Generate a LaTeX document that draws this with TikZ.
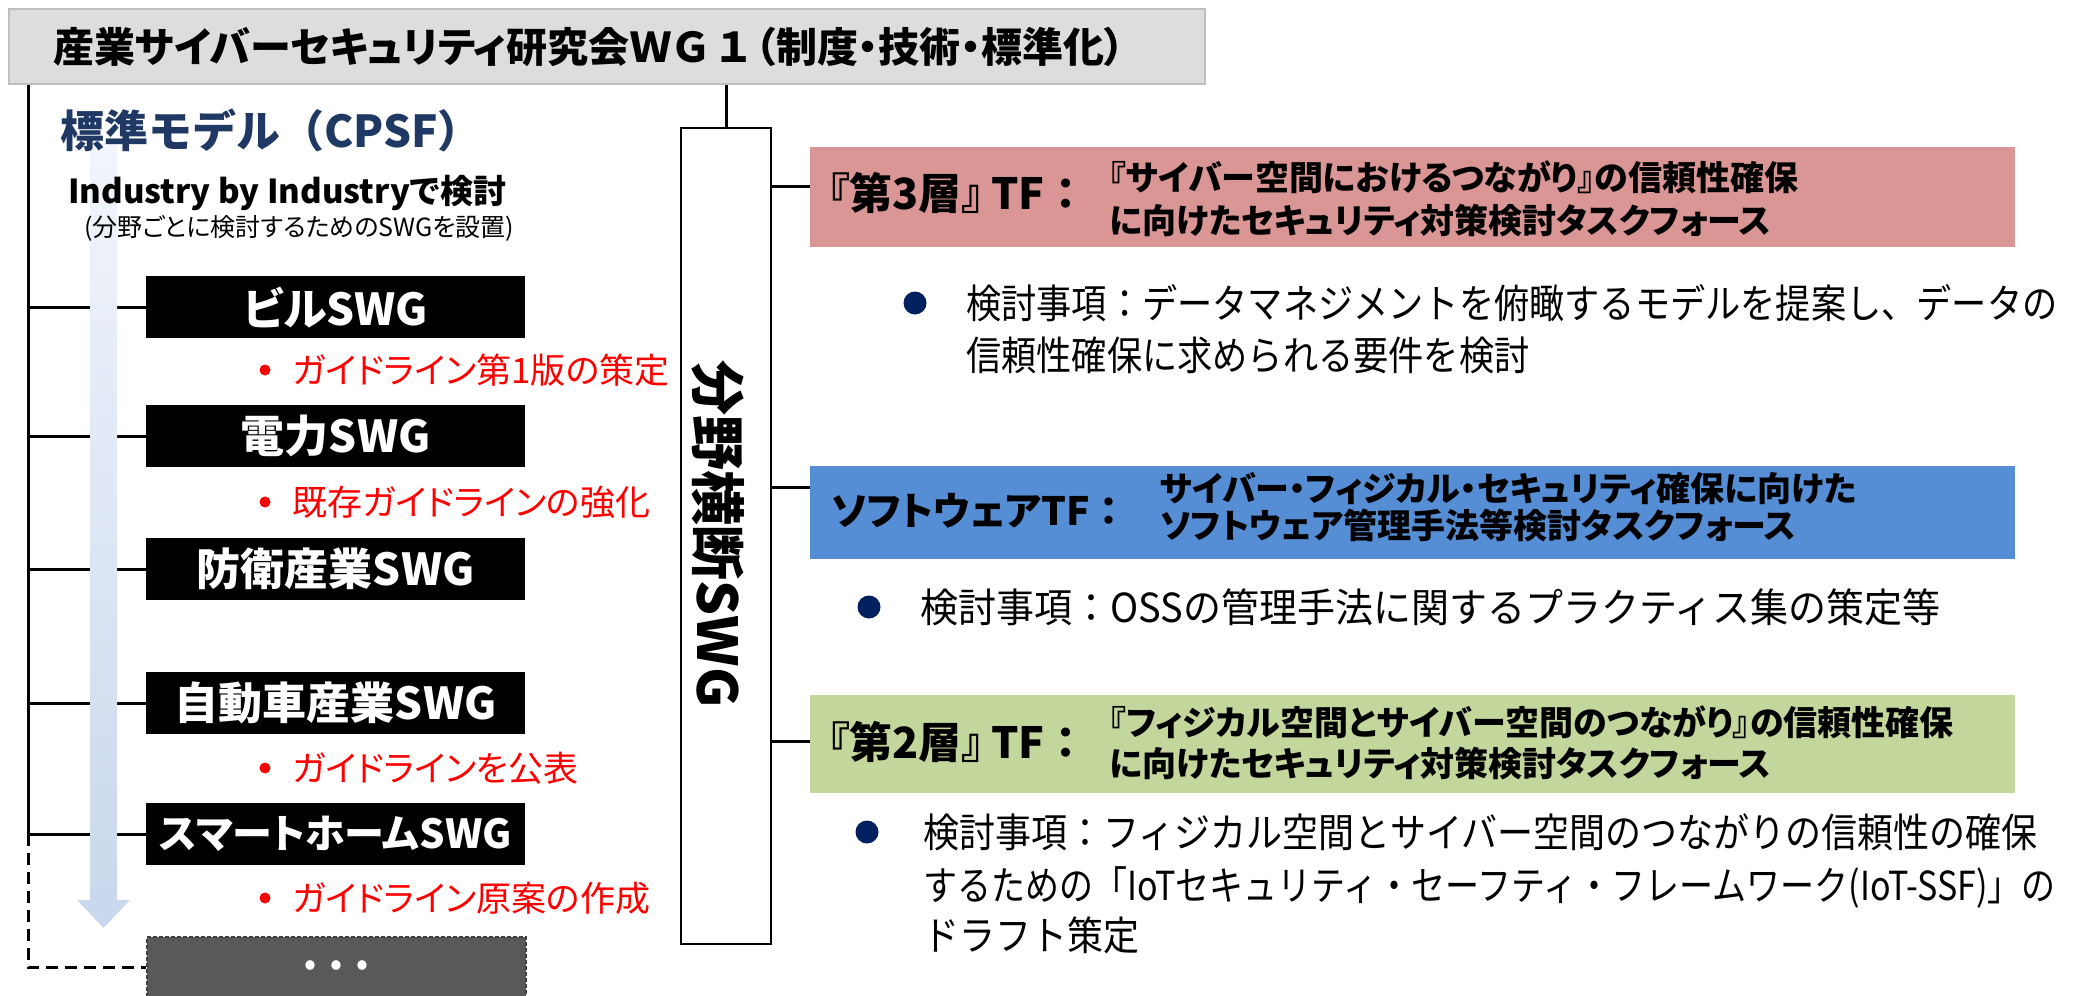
\documentclass[tikz,border=0pt]{standalone}
\usepackage{fontspec}
\setmainfont{Noto Sans CJK JP}[RawFeature={+palt}]
\newfontfamily\jpfull{Noto Sans CJK JP}
\newfontfamily\bodyA{Noto Sans CJK JP}[FakeStretch=0.88]
\newfontfamily\bodyB{Noto Sans CJK JP}[FakeStretch=0.95]
\newfontfamily\bodyC{Noto Sans CJK JP}[FakeStretch=0.90]
\newfontfamily\bodyD{Noto Sans CJK JP}[FakeStretch=0.85]
\definecolor{titlegray}{HTML}{DDDDDD}
\definecolor{titleborder}{HTML}{BFBFBF}
\definecolor{cpsfblue}{HTML}{1F3864}
\definecolor{pinkc}{HTML}{D99694}
\definecolor{bluec}{HTML}{558ED5}
\definecolor{greenc}{HTML}{C3D69B}
\definecolor{navy}{HTML}{002060}
\definecolor{dotsgray}{HTML}{595959}
\definecolor{arrowtop}{HTML}{F2F5FB}
\definecolor{arrowmid}{HTML}{B4C7E7}
\definecolor{arrowbot}{HTML}{C8D7EC}
\tikzset{
  conn/.style={line width=3pt, black},
  blackbox/.style={fill=black, draw=none, minimum width=379pt, minimum height=62pt, inner sep=0pt, text=white, font=\bfseries\fontsize{44}{48}\selectfont, anchor=north west},
  redtxt/.style={text=red, font=\fontsize{35}{40}\selectfont, anchor=west, inner sep=0pt},
  reddot/.style={circle, fill=red, minimum size=11pt, inner sep=0pt},
  tfbox/.style={minimum width=1205pt, anchor=north west, inner sep=0pt, draw=none},
  tflabel/.style={font=\bfseries\fontsize{43}{46}\selectfont, anchor=west, inner sep=0pt},
  tfline/.style={font=\bfseries\fontsize{34}{38}\selectfont, anchor=west, inner sep=0pt},
  bodytxt/.style={font=\fontsize{40}{44}\selectfont, anchor=west, inner sep=0pt},
  navydot/.style={circle, fill=navy, minimum size=23pt, inner sep=0pt},
}
\begin{document}
\begin{tikzpicture}[x=1pt,y=-1pt]
\useasboundingbox (0,0) rectangle (2081,996);
% title
\node[fill=titlegray, draw=titleborder, line width=2pt, anchor=north west, minimum width=1196pt, minimum height=75pt, inner sep=0pt] (title) at (8,8) {};
% boxes (positions)
\node[blackbox] (bil) at (146,276) {ビルSWG};
\node[blackbox] (den) at (146,405) {電力SWG};
\node[blackbox] (bou) at (146,538) {防衛産業SWG};
\node[blackbox] (jid) at (146,672) {自動車産業SWG};
\node[blackbox, font=\bfseries\fontsize{40}{44}\selectfont] (sma) at (146,803) {スマートホームSWG};
\node[blackbox, fill=dotsgray, draw=black!75, line width=1.5pt, dash pattern=on 4pt off 2pt, font=\bfseries\fontsize{30}{34}\selectfont] (dots) at (146,936) {•\hspace{14pt}•\hspace{14pt}•};
% trunk
\coordinate (tx) at (28,0);
\coordinate (tk1) at (bil.west -| tx);
\coordinate (tk2) at (den.west -| tx);
\coordinate (tk3) at (bou.west -| tx);
\coordinate (tk4) at (jid.west -| tx);
\coordinate (tk5) at (sma.west -| tx);
\coordinate (corner) at (dots.west -| tx);
\draw[conn] (title.south -| tx) -- (tk5);
\draw[conn] (tk1) -- (bil.west);
\draw[conn] (tk2) -- (den.west);
\draw[conn] (tk3) -- (bou.west);
\draw[conn] (tk4) -- (jid.west);
\draw[conn] (tk5) -- (sma.west);
\draw[conn, dash pattern=on 12pt off 7pt] (tk5) -- (corner) -- (dots.west);
% gradient arrow
\shade[top color=arrowtop, middle color=arrowmid, bottom color=arrowbot] (90,143) -- (117,143) -- (117,900) -- (130,900) -- (103.5,928) -- (77,900) -- (90,900) -- cycle;
% title text
\node[anchor=west, inner sep=0pt, font=\bfseries\fontsize{41}{44}\selectfont] (titletext) at (53,47) {産業サイバーセキュリティ研究会ＷＧ\hspace{10pt}１\hspace{6pt}（制度・技術・標準化）};
% left texts
\node[anchor=west, inner sep=0pt, text=cpsfblue, font=\jpfull\bfseries\fontsize{44}{48}\selectfont] (cpsf) at (60,130) {標準モデル（CPSF）};
\node[anchor=west, inner sep=0pt, font=\bfseries\fontsize{33}{36}\selectfont] (ind) at (68,193) {Industry by Industryで検討};
\node[anchor=west, inner sep=0pt, font=\fontsize{25}{29}\selectfont] (indsub) at (84,228) {(分野ごとに検討するためのSWGを設置)};
% red notes
\node[reddot] (rd1) at (265,370) {};
\node[redtxt] (r1) at (292,370) {ガイドライン第1版の策定};
\node[reddot] (rd2) at (265,502) {};
\node[redtxt] (r2) at (292,502) {既存ガイドラインの強化};
\node[reddot] (rd3) at (265,768) {};
\node[redtxt] (r3) at (292,768) {ガイドラインを公表};
\node[reddot] (rd4) at (265,898) {};
\node[redtxt] (r4) at (292,898) {ガイドライン原案の作成};
% cross-field SWG
\node[draw, line width=2pt, anchor=north west, minimum width=90pt, minimum height=816pt, inner sep=0pt] (swg) at (680,127) {};
\node[rotate=-90, inner sep=0pt, font=\jpfull\bfseries\fontsize{55}{58}\selectfont] (swgtext) at (718,534) {分野横断SWG};
\draw[conn] (title.south -| swg.north) -- (swg.north);
% TF boxes
\node[tfbox, fill=pinkc, minimum height=100pt] (tf3) at (810,147) {};
\node[tfbox, fill=bluec, minimum height=93pt] (tfsw) at (810,466) {};
\node[tfbox, fill=greenc, minimum height=98pt] (tf2) at (810,695) {};
\coordinate (c3) at (0,186);
\coordinate (csw) at (0,487);
\coordinate (c2) at (0,741);
\draw[conn] (swg.east |- c3) -- (tf3.west |- c3);
\draw[conn] (swg.east |- csw) -- (tfsw.west |- csw);
\draw[conn] (swg.east |- c2) -- (tf2.west |- c2);
\node[tflabel] (tf3lab) at (828,193) {『第3層』\hspace{8pt}TF{\jpfull ：}};
\node[tfline] (tf3l1) at (1109,177) {『サイバー空間におけるつながり』の信頼性確保};
\node[tfline] (tf3l2) at (1109,221) {に向けたセキュリティ対策検討タスクフォース};
\node[tflabel, font=\bfseries\fontsize{39}{42}\selectfont] (tfswlab) at (831,511) {ソフトウェアTF{\jpfull ：}};
\node[tfline] (tfswl1) at (1160,489) {サイバー・フィジカル・セキュリティ確保に向けた};
\node[tfline] (tfswl2) at (1160,526) {ソフトウェア管理手法等検討タスクフォース};
\node[tflabel] (tf2lab) at (828,742) {『第2層』\hspace{8pt}TF{\jpfull ：}};
\node[tfline] (tf2l1) at (1109,722) {『フィジカル空間とサイバー空間のつながり』の信頼性確保};
\node[tfline] (tf2l2) at (1109,764) {に向けたセキュリティ対策検討タスクフォース};
% bullet items
\node[navydot] (b1) at (915,303) {};
\node[bodytxt, font=\bodyA\fontsize{40}{44}\selectfont] (t1a) at (966,303) {検討事項：データマネジメントを俯瞰するモデルを提案し、データの};
\node[bodytxt, font=\bodyA\fontsize{40}{44}\selectfont] (t1b) at (966,355) {信頼性確保に求められる要件を検討};
\node[navydot] (b2) at (869,607) {};
\node[bodytxt, font=\bodyB\fontsize{40}{44}\selectfont] (t2a) at (920,607) {検討事項：OSSの管理手法に関するプラクティス集の策定等};
\node[navydot] (b3) at (867,832) {};
\node[bodytxt, font=\bodyC\fontsize{40}{44}\selectfont] (t3a) at (923,832) {検討事項：フィジカル空間とサイバー空間のつながりの信頼性の確保};
\node[bodytxt, font=\bodyD\fontsize{40}{44}\selectfont] (t3b) at (923,887) {するための「IoTセキュリティ・セーフティ・フレームワーク(IoT-SSF)」の};
\node[bodytxt, font=\bodyC\fontsize{40}{44}\selectfont] (t3c) at (923,935) {ドラフト策定};
\end{tikzpicture}
\end{document}
